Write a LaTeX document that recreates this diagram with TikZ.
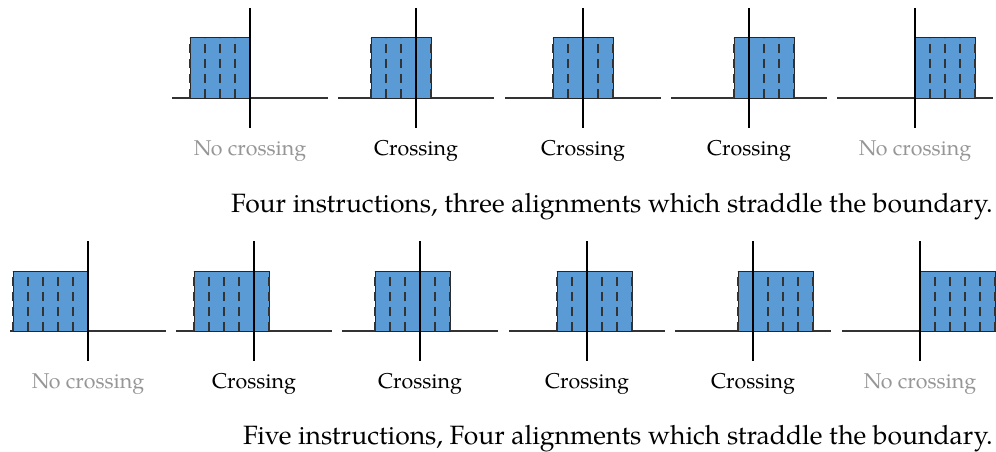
\documentclass[tikz,border=0pt]{standalone}
\usepackage{fontspec}
\setmainfont{TeX Gyre Pagella}
\definecolor{instr}{RGB}{91,155,213}
\definecolor{labgray}{RGB}{150,150,150}
\begin{document}
\begin{tikzpicture}[x=1pt,y=-1pt,
  font=\fontsize{21.4}{25}\selectfont,
  axisline/.style={draw=black!80,line width=1.1pt},
  vline/.style={draw=black,line width=2.8pt},
  boxedge/.style={draw=black!85,line width=1pt},
  dashline/.style={draw=black!80,line width=1.5pt,dash pattern=on 9pt off 6pt},
  lab/.style={anchor=base,inner sep=0pt},
  captext/.style={anchor=base east,inner sep=0pt,font=\fontsize{26.5}{30}\selectfont}]
\useasboundingbox (0,0) rectangle (996,452);
% Row 1: four instructions
\foreach \vx/\off/\lab/\col [count=\i] in {250/-60/{No crossing}/labgray, 416/-45/Crossing/black, 583/-30/Crossing/black, 749/-15/Crossing/black, 915/0/{No crossing}/labgray}{
  \draw[axisline] (\vx-78,98) -- (\vx+78,98);
  \fill[instr] (\vx+\off,38) rectangle (\vx+\off+60,98);
  \draw[boxedge] (\vx+\off,38) rectangle (\vx+\off+60,98);
  \foreach \k in {0,...,4}
    \draw[dashline] (\vx+\off+15*\k,98) -- (\vx+\off+15*\k,38);
  \draw[vline] (\vx,8) -- (\vx,128);
  \node[lab,text=\col] (ra\i) at (\vx,155) {\lab};
}
\node[captext] (cap1) at (993,212) {Four instructions, three alignments which straddle the boundary.};
% Row 2: five instructions
\foreach \vx/\off/\lab/\col [count=\i] in {88/-75/{No crossing}/labgray, 254/-60/Crossing/black, 420/-45/Crossing/black, 587/-30/Crossing/black, 753/-15/Crossing/black, 920/0/{No crossing}/labgray}{
  \draw[axisline] (\vx-78,331) -- (\vx+78,331);
  \fill[instr] (\vx+\off,271) rectangle (\vx+\off+75,331);
  \draw[boxedge] (\vx+\off,271) rectangle (\vx+\off+75,331);
  \foreach \k in {0,...,5}
    \draw[dashline] (\vx+\off+15*\k,331) -- (\vx+\off+15*\k,271);
  \draw[vline] (\vx,241) -- (\vx,361);
  \node[lab,text=\col] (rb\i) at (\vx,388) {\lab};
}
\node[captext] (cap2) at (993,444) {Five instructions, Four alignments which straddle the boundary.};
\end{tikzpicture}
\end{document}
